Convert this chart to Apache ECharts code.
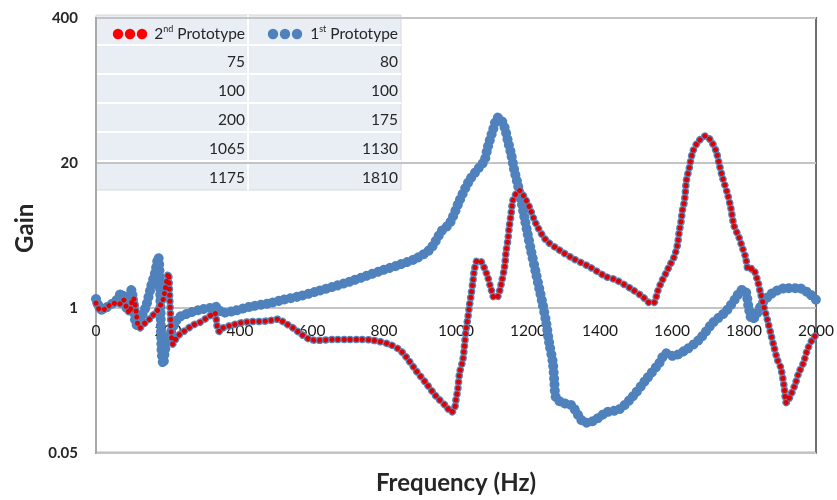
<!DOCTYPE html>
<html><head><meta charset="utf-8">
<script src="https://cdn.jsdelivr.net/npm/echarts@6/dist/echarts.min.js"></script>
<style>html,body{margin:0;padding:0;background:#fff}#c{width:837px;height:500px}</style>
</head><body><div id="c"></div>
<script>
// 1st Prototype (blue)
const freq1 = [0,16,39,55,71,85,99,103,113,127,140,154,164,173,178,182,187,191,197,205,220,233,260,289,320,335,350,385,427,483,520,570,612,660,705,750,797,845,890,926,945,960,982,1010,1037,1065,1079,1088,1102,1116,1125,1135,1144,1153,1162,1171,1181,1190,1199,1208,1222,1232,1240,1250,1259,1269,1273,1278,1296,1315,1324,1352,1366,1380,1400,1417,1454,1491,1528,1565,1583,1602,1639,1676,1713,1750,1777,1795,1805,1813,1823,1837,1851,1878,1916,1952,1980,2000];
const gain1 = [1.20,0.96,1.06,1.15,1.36,1.00,1.45,1.10,0.70,0.84,1.06,1.60,2.05,2.86,1.45,0.42,0.31,0.40,0.50,0.57,0.74,0.83,0.90,0.96,1.00,1.02,0.90,0.94,1.02,1.10,1.18,1.28,1.40,1.55,1.72,1.93,2.18,2.45,2.78,3.3,4.05,4.9,5.7,9.2,13.9,18.3,21.0,27.5,38.8,51,49,41.5,31.6,24,17.1,13,9.2,6.5,4.6,3.3,2.04,1.45,1.10,0.75,0.48,0.32,0.22,0.155,0.14,0.136,0.13,0.095,0.093,0.096,0.105,0.115,0.123,0.16,0.227,0.32,0.39,0.37,0.42,0.52,0.73,0.93,1.22,1.45,1.40,1.0,0.78,0.90,1.10,1.35,1.50,1.50,1.35,1.18];
// 2nd Prototype (red)
const freq2 = [0,11,20,35,48,62,76,85,90,94,100,104,108,113,117,122,130,140,150,159,168,175,182,187,191,196,201,205,210,214,225,240,252,270,289,305,322,330,338,344,353,380,400,430,473,510,519,547,570,594,620,658,700,732,770,815,843,862,890,917,945,973,987,996,1000,1005,1010,1019,1023,1028,1033,1037,1042,1047,1051,1060,1070,1079,1088,1098,1107,1116,1125,1135,1139,1144,1148,1153,1158,1167,1176,1190,1204,1222,1250,1287,1324,1370,1417,1444,1491,1518,1541,1551,1560,1569,1583,1592,1606,1615,1620,1625,1629,1634,1637,1640,1648,1657,1671,1694,1708,1722,1731,1740,1754,1763,1772,1786,1795,1804,1813,1823,1837,1846,1856,1865,1874,1883,1893,1902,1911,1918,1930,1943,1952,1965,1976,1990,2000];
const gain2 = [1.10,0.96,0.96,1.04,1.10,1.06,1.18,1.00,0.93,0.90,1.15,1.22,1.10,0.84,0.68,0.66,0.70,0.75,0.80,0.86,0.92,1.00,1.10,1.20,1.40,1.72,2.04,1.18,0.54,0.47,0.55,0.60,0.64,0.70,0.74,0.80,0.87,0.90,0.64,0.61,0.66,0.70,0.73,0.75,0.76,0.79,0.75,0.66,0.58,0.52,0.51,0.52,0.52,0.52,0.51,0.47,0.42,0.36,0.27,0.21,0.16,0.13,0.115,0.125,0.15,0.185,0.26,0.34,0.44,0.64,0.81,1.03,1.31,1.72,2.18,2.68,2.59,2.26,1.90,1.45,1.22,1.26,1.61,2.34,3.18,4.05,5.32,7.0,9.2,10.6,11.3,9.8,8.0,5.7,4.05,3.3,2.78,2.34,1.90,1.78,1.45,1.26,1.10,1.12,1.40,1.66,2.04,2.34,2.87,3.65,4.8,5.9,7.5,8.9,10.9,13.9,18,24.8,30.5,35,31.6,25.7,19.6,14.9,10.6,8.0,5.5,4.3,3.5,2.87,2.18,2.26,1.78,1.35,1.0,0.78,0.59,0.45,0.34,0.29,0.20,0.14,0.165,0.21,0.26,0.32,0.42,0.52,0.57];
const xTicks = [0,200,400,600,800,1000,1200,1400,1600,1800,2000];
const yTicks = [0.05, 1, 20, 400];
const seriesNames = ['2nd Prototype', '1st Prototype'];
const table2nd = [75, 100, 200, 1065, 1175];
const table1st = [80, 100, 175, 1130, 1810];

const FONT = 'Lato, "Open Sans", "Liberation Sans", sans-serif';
const pts1 = freq1.map((f, i) => [f, gain1[i]]);
const pts2 = freq2.map((f, i) => [f, gain2[i]]);

const gridL = 96, gridT = 18, gridR = 20, gridB = 45;
const gridH = 500 - gridT - gridB;

// table legend
const tX = 96, tY = 15, colW = 152, rowH = [30, 29, 29, 29, 29, 29];
const tbl = [];
const totalH = rowH.reduce((a, b) => a + b, 0);
tbl.push({type: 'rect', shape: {x: tX, y: tY, width: colW * 2 + 1, height: totalH}, style: {fill: '#e9edf4', stroke: '#d6d9de', lineWidth: 1}});
tbl.push({type: 'rect', shape: {x: tX + colW - 1, y: tY, width: 2, height: totalH}, style: {fill: '#ffffff'}});
let yy = tY;
const rowTops = [];
rowH.forEach((h, i) => {
  rowTops.push(yy);
  yy += h;
  if (i < rowH.length - 1) tbl.push({type: 'rect', shape: {x: tX, y: yy - 1, width: colW * 2 + 1, height: 2}, style: {fill: '#ffffff'}});
});
function supLabel(name) {
  const m = name.match(/^(\d)(\w\w)(.*)$/);
  return '{n|' + m[1] + '}{s|' + m[2] + '}{n|' + m[3] + '}';
}
const rich = {n: {fontSize: 15.5, fontFamily: FONT, fill: '#262626', lineHeight: 18}, s: {fontSize: 9, fontFamily: FONT, fill: '#262626', verticalAlign: 'top', lineHeight: 12}};
[[seriesNames[0], '#ff0000', tX + colW - 3], [seriesNames[1], '#4f81bd', tX + 2 * colW - 2]].forEach(([nm, col, rx], k) => {
  tbl.push({type: 'text', style: {text: supLabel(nm), rich: rich, x: rx, y: rowTops[0] + 19, align: 'right', verticalAlign: 'middle'}});
  const dx = k === 0 ? 118 : 273;
  for (let j = 0; j < 3; j++) tbl.push({type: 'circle', shape: {cx: dx + j * 12, cy: rowTops[0] + 19, r: 5.2}, style: {fill: col}});
});
table2nd.forEach((v, i) => {
  tbl.push({type: 'text', style: {text: String(v), x: tX + colW - 3, y: rowTops[i + 1] + 17, align: 'right', verticalAlign: 'middle', font: '15.5px ' + FONT, fill: '#262626'}});
  tbl.push({type: 'text', style: {text: String(table1st[i]), x: tX + 2 * colW - 2, y: rowTops[i + 1] + 17, align: 'right', verticalAlign: 'middle', font: '15.5px ' + FONT, fill: '#262626'}});
});

const chart = echarts.init(document.getElementById('c'), null, {renderer: 'canvas'});
chart.setOption({
  animation: false,
  backgroundColor: '#ffffff',
  grid: {left: gridL, right: gridR, top: gridT, bottom: gridB, show: true, borderColor: '#6e6e6e', borderWidth: 2, containLabel: false},
  xAxis: {
    type: 'value', min: xTicks[0], max: xTicks[xTicks.length - 1], interval: 200,
    position: 'bottom', offset: -gridH / 3,
    axisLine: {show: false}, axisTick: {show: false}, splitLine: {show: false},
    axisLabel: {fontSize: 15.5, fontFamily: FONT, color: '#1a1a1a', margin: 16, formatter: v => String(v)},
    name: 'Frequency (Hz)', nameLocation: 'middle', nameGap: 164,
    nameTextStyle: {fontSize: 24, fontWeight: 'bold', fontFamily: FONT, color: '#262626'}
  },
  yAxis: {
    type: 'log', logBase: 20, min: yTicks[0], max: yTicks[yTicks.length - 1],
    axisLine: {show: true, lineStyle: {color: '#a9a9a9', width: 2}}, axisTick: {show: false},
    splitLine: {show: true, lineStyle: {color: '#c4c4c4', width: 2}},
    axisLabel: {fontSize: 15, fontWeight: 'bold', fontFamily: FONT, color: '#262626', margin: 18,
      formatter: v => { const t = yTicks.find(t => Math.abs(t - v) / t < 1e-4); return t != null ? String(t) : ''; }},
    name: 'Gain', nameLocation: 'middle', nameGap: 53, nameRotate: 90,
    nameTextStyle: {fontSize: 24, fontWeight: 'bold', fontFamily: FONT, color: '#262626', padding: [0, 0, 0, 14]}
  },
  series: [
    {name: seriesNames[1], type: 'line', data: pts1, showSymbol: false, smooth: 0.3, silent: true, z: 2,
      lineStyle: {color: '#4f81bd', width: 10, type: [0.1, 6], cap: 'round'}},
    {name: seriesNames[0] + ' border', type: 'line', data: pts2, showSymbol: false, smooth: 0.3, silent: true, z: 3,
      lineStyle: {color: '#5b84b8', width: 7.5, type: [0.1, 6], cap: 'round'}},
    {name: seriesNames[0], type: 'line', data: pts2, showSymbol: false, smooth: 0.3, silent: true, z: 4,
      lineStyle: {color: '#e00000', width: 5, type: [0.1, 6], cap: 'round'}}
  ],
  graphic: [{type: 'group', z: 100, children: tbl}]
});
</script></body></html>
